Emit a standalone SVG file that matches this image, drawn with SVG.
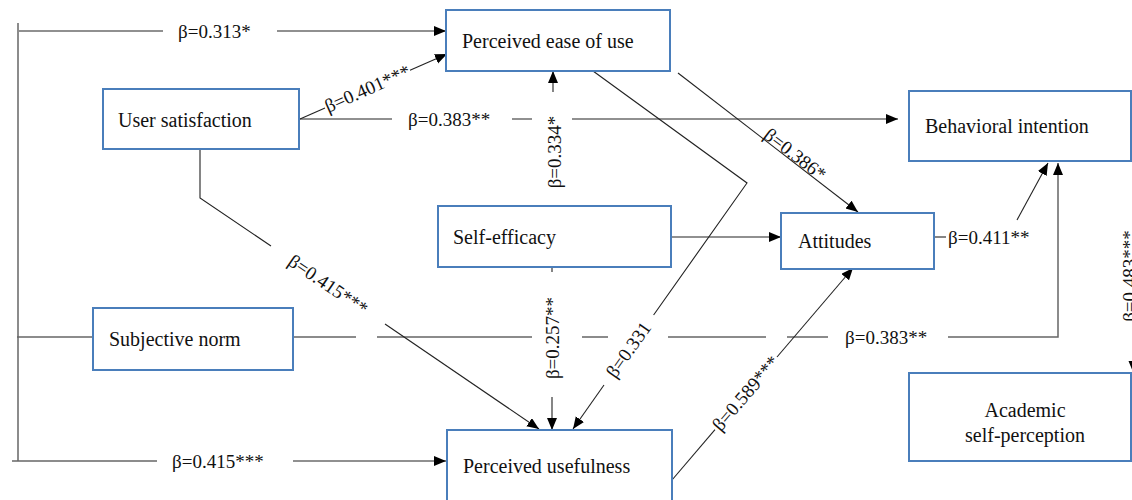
<svg xmlns="http://www.w3.org/2000/svg" width="1132" height="500" viewBox="0 0 1132 500">
<defs>
<marker id="ah" markerUnits="userSpaceOnUse" markerWidth="13" markerHeight="11" refX="12" refY="5" orient="auto">
<path d="M0,0 L12,5 L0,10 z" fill="#000"/>
</marker>
<style>
.box{fill:#fff;stroke:#4a7ebb;stroke-width:2}
.nt{font-size:20px;fill:#111}
.ln{fill:none;stroke:#222;stroke-width:1.1}
.gl{fill:none;stroke:#666;stroke-width:1.5}
.lb{font-size:19px;fill:#111}
.arr{marker-end:url(#ah)}
</style>
</defs>
<rect width="1132" height="500" fill="#fff"/>
<g id="connectors" font-family="'Liberation Serif', 'DejaVu Serif', serif">
<path class="gl" d="M18,23 V461"/>
<path class="ln" d="M19,31 H163"/>
<path class="ln arr" d="M277,31 H446"/>
<text class="lb" x="178" y="38">β=0.313*</text>
<path class="gl" d="M17,337 H93"/>
<path class="gl" d="M12,461 H157"/>
<path class="ln arr" d="M293,461 H446"/>
<text class="lb" x="172" y="468">β=0.415***</text>
<path class="ln" d="M300,119 L325,108"/>
<path class="ln arr" d="M410,70.3 L447,54"/>
<text class="lb" text-anchor="middle" transform="translate(367.6,89) rotate(-23.9)" y="6">β=0.401***</text>
<path class="ln" d="M300,119 H392 M512,119 H532"/>
<path class="ln arr" d="M572,119 H898"/>
<text class="lb" x="408" y="126">β=0.383**</text>
<path class="ln arr" d="M553,92 V71"/>
<text class="lb" text-anchor="middle" transform="translate(561,152) rotate(-90)">β=0.334*</text>
<path class="ln" d="M552,268 V272"/>
<path class="ln arr" d="M552,397 V430"/>
<text class="lb" text-anchor="middle" transform="translate(559,338) rotate(-90)">β=0.257**</text>
<path class="gl" d="M293,337 H356 M377,337 H532 M582,337 H608 M668,337 H766 M787,337 H828"/>
<path class="gl arr" d="M948,337 H1058 V163"/>
<text class="lb" x="845" y="344">β=0.383**</text>
<path class="ln" d="M200,149 V198 L271,246"/>
<path class="ln arr" d="M385,324 L539,429"/>
<text class="lb" text-anchor="middle" transform="translate(328,285) rotate(34.3)" y="6">β=0.415***</text>
<path class="ln arr" d="M678,73 L858,212"/>
<text class="lb" transform="translate(762,138) rotate(37.7)" y="-1">β=0.386*</text>
<path class="ln" d="M593,71 L747,183 L653.6,315"/>
<path class="ln arr" d="M604,385 L573,429"/>
<text class="lb" text-anchor="middle" transform="translate(628.8,350) rotate(-54.7)" y="6">β=0.331</text>
<path class="ln arr" d="M671,237 H781"/>
<path class="ln" d="M672,480 L715,429.6"/>
<path class="ln arr" d="M777,357 L853,268"/>
<text class="lb" text-anchor="middle" transform="translate(746,393.5) rotate(-49.5)" y="6">β=0.589***</text>
<path class="ln" d="M934,237 H946"/>
<text class="lb" x="948" y="244">β=0.411**</text>
<path class="ln arr" d="M1017,220 L1048,163"/>
<path class="ln arr" d="M1133.5,161 V373"/>
<text class="lb" text-anchor="middle" transform="translate(1136,276) rotate(-90)">β=0.483***</text>
</g>
<g font-family="'Liberation Serif', 'DejaVu Serif', serif">
<g id="n-peou"><rect class="box" x="446" y="10" width="224" height="61"/><text class="nt" x="462" y="48">Perceived ease of use</text></g>
<g id="n-us"><rect class="box" x="103" y="89" width="196" height="60"/><text class="nt" x="118" y="127">User satisfaction</text></g>
<g id="n-bi"><rect class="box" x="909" y="91" width="222" height="70"/><text class="nt" x="925" y="133">Behavioral intention</text></g>
<g id="n-se"><rect class="box" x="438" y="206" width="233" height="61"/><text class="nt" x="453" y="244">Self-efficacy</text></g>
<g id="n-att"><rect class="box" x="781" y="213" width="153" height="56"/><text class="nt" x="798" y="248">Attitudes</text></g>
<g id="n-sn"><rect class="box" x="93" y="308" width="200" height="62"/><text class="nt" x="109" y="346">Subjective norm</text></g>
<g id="n-pu"><rect class="box" x="447" y="430" width="225" height="80"/><text class="nt" x="463" y="473">Perceived usefulness</text></g>
<g id="n-asp"><rect class="box" x="909" y="373" width="222" height="88"/><text class="nt" x="1025" y="417" text-anchor="middle">Academic</text><text class="nt" x="1025" y="442" text-anchor="middle">self-perception</text></g>
</g>
</svg>
